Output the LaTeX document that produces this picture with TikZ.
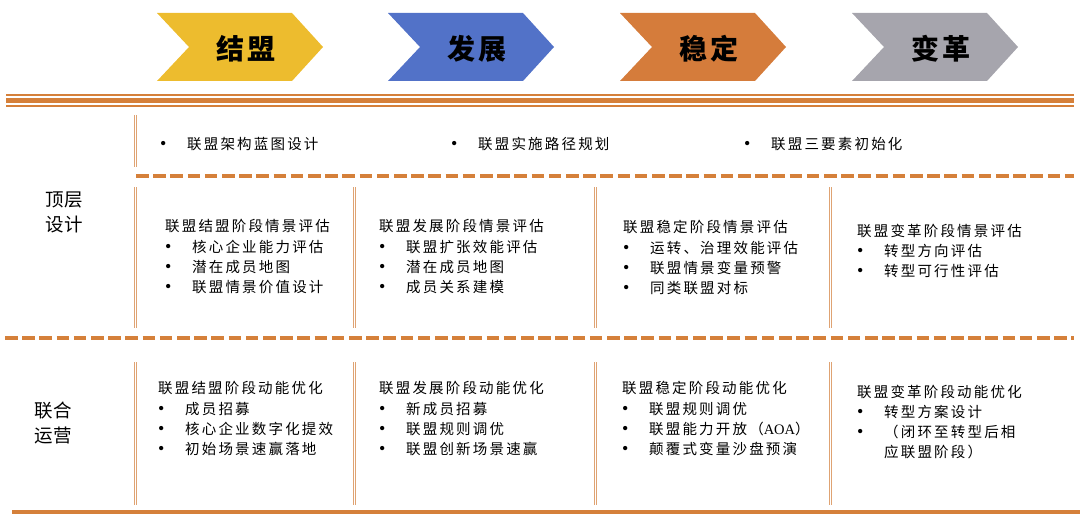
\documentclass[tikz,border=0pt]{standalone}
\usepackage{fontspec}
\setmainfont{Noto Sans CJK SC}
\newfontfamily\kai[LetterSpace=15]{Noto Sans CJK SC}
\newfontfamily\kaibig[LetterSpace=10]{Noto Sans CJK SC}
\newfontfamily\kaiside[LetterSpace=5]{Noto Sans CJK SC}
\newfontfamily\bulfont{Liberation Serif}
\newcommand\bl{\makebox[27pt][l]{\bulfont\fontsize{18}{18}\selectfont •}}
\definecolor{cyel}{HTML}{EDBC2E}
\definecolor{cblu}{HTML}{5272C8}
\definecolor{cora}{HTML}{D57C3B}
\definecolor{cgry}{HTML}{A6A5AD}
\definecolor{lineor}{HTML}{D5803A}
\definecolor{sepor}{HTML}{DFA373}
\tikzset{
  hline/.style={draw=lineor},
  vsep/.style={draw=sepor, line width=1.1pt, double=white, double distance=0.8pt},
  dashln/.style={draw=lineor, line width=4.2pt, dash pattern=on 12.5pt off 4.7pt},
  body/.style={inner sep=0pt, anchor=north west, align=left, font=\kai\fontsize{14.5}{20.3}\selectfont},
  chevtext/.style={inner sep=0pt, font=\kaibig\bfseries\fontsize{28}{30}\selectfont},
  side/.style={inner sep=0pt, align=center, font=\kaiside\fontsize{18.5}{25}\selectfont},
  toprow/.style={inner sep=0pt, anchor=west, font=\kai\fontsize{14.5}{20.3}\selectfont}
}
\begin{document}
\begin{tikzpicture}[x=1pt,y=-1pt]
\useasboundingbox (0,0) rectangle (1080,519);
% chevrons
\foreach \L/\c in {157/cyel,388/cblu,620/cora,852/cgry}{
  \fill[\c] (\L,13) -- ({\L+135},13) -- ({\L+166},47) -- ({\L+135},81) -- (\L,81) -- ({\L+32},47) -- cycle;
}
\node[chevtext] (c1) at (246,48.5) {结盟};
\node[chevtext] (c2) at (477,48.5) {发展};
\node[chevtext] (c3) at (709,48.5) {稳定};
\node[chevtext] (c4) at (941,48.5) {变革};
% triple line
\coordinate (tl1) at (6,95.3);   \coordinate (tr1) at (1074,95.3);
\coordinate (tl2) at (6,101);    \coordinate (tr2) at (1074,101);
\coordinate (tl3) at (6,106.2);  \coordinate (tr3) at (1074,106.2);
\draw[hline, line width=1.8pt] (tl1) -- (tr1);
\draw[hline, line width=5pt] (tl2) -- (tr2);
\draw[hline, line width=1.8pt] (tl3) -- (tr3);
% dashed lines
\coordinate (d1l) at (136,176); \coordinate (d1r) at (1074,176);
\coordinate (d2l) at (5,338);   \coordinate (d2r) at (1074,338);
\draw[dashln] (d1l) -- (d1r);
\draw[dashln] (d2l) -- (d2r);
% bottom line
\coordinate (bl) at (12,512); \coordinate (br) at (1080,512);
\draw[hline, line width=4pt] (bl) -- (br);
% vertical separators
\coordinate (v0a) at (135,115); \coordinate (v0b) at (135,167);
\draw[vsep] (v0a) -- (v0b);
\foreach \x in {135,354,595,830}{
  \draw[vsep] (\x,187) -- (\x,328);
  \draw[vsep] (\x,362) -- (\x,505);
}
% side labels
\node[side] (s1) at (64,212.5) {顶层\\设计};
\node[side] (s2) at (53,422.5) {联合\\运营};
% top row
\node[toprow] (t1) at (160,144) {\bl 联盟架构蓝图设计};
\node[toprow] (t2) at (451,144) {\bl 联盟实施路径规划};
\node[toprow] (t3) at (744,144) {\bl 联盟三要素初始化};
% middle blocks
\node[body] (m1) at (165,219.5) {联盟结盟阶段情景评估\\\bl 核心企业能力评估\\\bl 潜在成员地图\\\bl 联盟情景价值设计};
\node[body] (m2) at (379,219.5) {联盟发展阶段情景评估\\\bl 联盟扩张效能评估\\\bl 潜在成员地图\\\bl 成员关系建模};
\node[body] (m3) at (623,220.5) {联盟稳定阶段情景评估\\\bl 运转、治理效能评估\\\bl 联盟情景变量预警\\\bl 同类联盟对标};
\node[body] (m4) at (857,223.5) {联盟变革阶段情景评估\\\bl 转型方向评估\\\bl 转型可行性评估};
% bottom blocks
\node[body] (b1) at (158,381.5) {联盟结盟阶段动能优化\\\bl 成员招募\\\bl 核心企业数字化提效\\\bl 初始场景速赢落地};
\node[body] (b2) at (379,381.5) {联盟发展阶段动能优化\\\bl 新成员招募\\\bl 联盟规则调优\\\bl 联盟创新场景速赢};
\node[body] (b3) at (622,381.5) {联盟稳定阶段动能优化\\\bl 联盟规则调优\\\bl 联盟能力开放（{\bulfont AOA}）\\\bl 颠覆式变量沙盘预演};
\node[body] (b4) at (857,384.5) {联盟变革阶段动能优化\\\bl 转型方案设计\\\bl （闭环至转型后相\\\makebox[27pt][l]{}应联盟阶段）};
\end{tikzpicture}
\end{document}
